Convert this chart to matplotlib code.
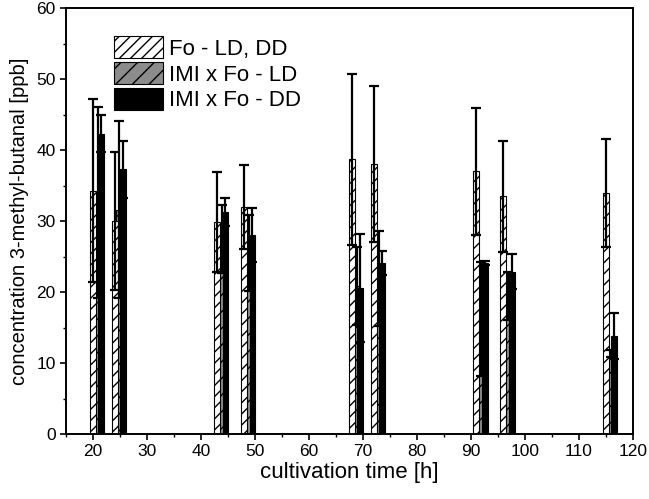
import matplotlib
matplotlib.use("Agg")
import matplotlib.pyplot as plt
from matplotlib.patches import Patch
from matplotlib.ticker import MultipleLocator

plt.rcParams['font.family'] = ['Liberation Sans', 'DejaVu Sans']
plt.rcParams['hatch.linewidth'] = 1.0

# cultivation time points [h]
times = [20, 24, 43, 48, 68, 72, 91, 96, 115]

# Fo - LD, DD
fo_mean = [34.3, 30.0, 29.9, 32.0, 38.7, 38.0, 37.0, 33.5, 34.0]
fo_err = [12.9, 9.7, 7.0, 5.9, 12.0, 11.0, 8.9, 7.8, 7.6]
# IMI x Fo - LD
ld_mean = [32.6, 31.6, 27.5, 25.5, 20.8, 21.9, 16.2, 19.5, 11.4]
ld_err = [13.5, 12.5, 4.8, 5.3, 5.5, 6.7, 8.0, 3.4, 0.5]
# IMI x Fo - DD
dd_mean = [42.3, 37.3, 31.3, 28.0, 20.6, 24.1, 24.1, 22.9, 13.8]
dd_err = [2.6, 4.0, 2.0, 3.8, 7.6, 1.7, 0.3, 2.4, 3.3]

labels = ["Fo - LD, DD", "IMI x Fo - LD", "IMI x Fo - DD"]

fig = plt.figure(figsize=(6.49, 4.99), dpi=100)
ax = fig.add_axes([0.1017, 0.1303, 0.8732, 0.8531])

w = 1.1
x_fo = [t for t in times]
x_ld = [t + 0.9 for t in times]
x_dd = [t + 1.55 for t in times]

ax.bar(x_ld, ld_mean, width=w, color="#8c8c8c", edgecolor="black", hatch="//",
       linewidth=0.8, zorder=1)
ax.bar(x_fo, fo_mean, width=w, color="white", edgecolor="black", hatch="///",
       linewidth=0.8, zorder=2)
ax.bar(x_dd, dd_mean, width=w, color="black", edgecolor="black",
       linewidth=0.8, zorder=3)

for xs, m, e in [(x_fo, fo_mean, fo_err), (x_ld, ld_mean, ld_err), (x_dd, dd_mean, dd_err)]:
    ax.errorbar(xs, m, yerr=e, fmt="none", ecolor="black", elinewidth=1.6,
                capsize=3.4, capthick=1.6, zorder=4)

ax.set_xlim(15, 120)
ax.set_ylim(0, 60)
ax.xaxis.set_major_locator(MultipleLocator(10))
ax.xaxis.set_minor_locator(MultipleLocator(5))
ax.yaxis.set_major_locator(MultipleLocator(10))
ax.yaxis.set_minor_locator(MultipleLocator(5))
ax.tick_params(which="major", direction="out", length=4, width=1.2, labelsize=12.5)
ax.tick_params(which="minor", direction="out", length=2.5, width=1.0)
for s in ax.spines.values():
    s.set_linewidth(1.4)

ax.set_xlabel("cultivation time [h]", fontsize=16, labelpad=2)
ax.set_ylabel("concentration 3-methyl-butanal [ppb]", fontsize=14.5, labelpad=5)

handles = [
    Patch(facecolor="white", edgecolor="black", hatch="///", linewidth=0.8),
    Patch(facecolor="#8c8c8c", edgecolor="black", hatch="//", linewidth=0.8),
    Patch(facecolor="black", edgecolor="black", linewidth=0.8),
]
ax.legend(handles, labels, loc="upper left", bbox_to_anchor=(0.069, 0.955),
          frameon=False, fontsize=16, handlelength=2.2, handleheight=1.15,
          handletextpad=0.28, labelspacing=0.1, borderaxespad=0)

fig.savefig("out.png", dpi=100)
